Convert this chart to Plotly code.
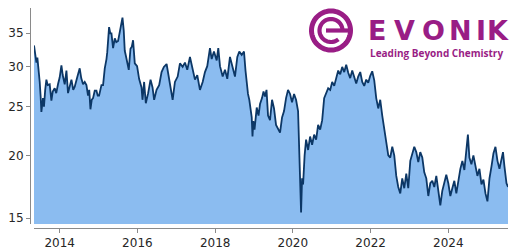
import math
import pandas as pd
import plotly.graph_objects as go

# ---- data (decimal year, price in EUR) ----
t_years = [
    2013.338, 2013.369, 2013.400, 2013.425, 2013.459, 2013.485, 2013.510, 2013.528, 2013.570, 2013.595,
    2013.626, 2013.657, 2013.691, 2013.742, 2013.786, 2013.820, 2013.871, 2013.910, 2013.956, 2014.000,
    2014.044, 2014.077, 2014.129, 2014.173, 2014.214, 2014.258, 2014.302, 2014.348, 2014.387, 2014.451,
    2014.515, 2014.554, 2014.601, 2014.644, 2014.688, 2014.729, 2014.760, 2014.791, 2014.825, 2014.858,
    2014.902, 2014.946, 2014.979, 2015.013, 2015.031, 2015.075, 2015.116, 2015.160, 2015.204, 2015.224,
    2015.271, 2015.302, 2015.332, 2015.374, 2015.418, 2015.456, 2015.503, 2015.546, 2015.585, 2015.616,
    2015.649, 2015.675, 2015.706, 2015.735, 2015.778, 2015.822, 2015.856, 2015.889, 2015.933, 2015.992,
    2016.044, 2016.106, 2016.131, 2016.173, 2016.216, 2016.276, 2016.338, 2016.389, 2016.430, 2016.492,
    2016.559, 2016.621, 2016.680, 2016.750, 2016.791, 2016.853, 2016.905, 2016.964, 2017.034, 2017.093,
    2017.162, 2017.222, 2017.281, 2017.351, 2017.420, 2017.479, 2017.539, 2017.608, 2017.678, 2017.737,
    2017.796, 2017.866, 2017.910, 2017.969, 2018.039, 2018.080, 2018.124, 2018.193, 2018.253, 2018.312,
    2018.381, 2018.451, 2018.510, 2018.570, 2018.621, 2018.683, 2018.742, 2018.781, 2018.812, 2018.845,
    2018.879, 2018.910, 2018.941, 2018.961, 2018.982, 2019.013, 2019.070, 2019.116, 2019.155, 2019.206,
    2019.245, 2019.284, 2019.322, 2019.361, 2019.412, 2019.464, 2019.515, 2019.567, 2019.619, 2019.670,
    2019.722, 2019.773, 2019.825, 2019.876, 2019.928, 2019.979, 2020.031, 2020.082, 2020.134, 2020.160,
    2020.186, 2020.211, 2020.237, 2020.263, 2020.302, 2020.340, 2020.392, 2020.443, 2020.495, 2020.546,
    2020.598, 2020.649, 2020.701, 2020.753, 2020.804, 2020.856, 2020.907, 2020.959, 2021.010, 2021.062,
    2021.113, 2021.165, 2021.216, 2021.268, 2021.320, 2021.371, 2021.423, 2021.474, 2021.526, 2021.577,
    2021.629, 2021.680, 2021.732, 2021.784, 2021.835, 2021.887, 2021.938, 2021.990, 2022.041, 2022.093,
    2022.144, 2022.196, 2022.247, 2022.299, 2022.351, 2022.402, 2022.454, 2022.505, 2022.557, 2022.608,
    2022.660, 2022.711, 2022.763, 2022.814, 2022.866, 2022.918, 2022.969, 2023.021, 2023.072, 2023.124,
    2023.175, 2023.227, 2023.278, 2023.330, 2023.381, 2023.433, 2023.485, 2023.536, 2023.588, 2023.639,
    2023.691, 2023.742, 2023.794, 2023.845, 2023.897, 2023.948, 2024.000, 2024.052, 2024.103, 2024.155,
    2024.206, 2024.258, 2024.309, 2024.361, 2024.412, 2024.464, 2024.503, 2024.541, 2024.593, 2024.644,
    2024.696, 2024.747, 2024.799, 2024.851, 2024.902, 2024.954, 2025.005, 2025.057, 2025.108, 2025.160,
    2025.211, 2025.263, 2025.314, 2025.366, 2025.405, 2025.443, 2025.495, 2025.534,
]
prices = [
    33.1, 32.0, 30.6, 31.3, 29.7, 28.0, 26.1, 24.4, 26.0, 25.0,
    27.0, 28.3, 27.6, 27.7, 25.7, 26.8, 27.2, 26.6, 27.7, 28.6,
    30.2, 28.9, 27.7, 29.5, 26.6, 27.6, 28.3, 27.0, 27.4, 28.6,
    29.8, 28.5, 27.7, 28.0, 27.6, 26.3, 27.0, 24.7, 25.8, 26.0,
    26.9, 26.9, 26.3, 26.3, 26.7, 27.6, 27.6, 29.8, 31.1, 32.1,
    36.0, 35.0, 35.0, 32.7, 34.2, 33.6, 33.8, 35.1, 36.5, 37.6,
    35.4, 32.3, 31.5, 30.5, 29.6, 32.6, 32.9, 33.9, 30.5, 30.1,
    28.4, 27.3, 25.8, 28.0, 25.4, 26.6, 28.3, 27.3, 25.8, 27.0,
    27.6, 29.3, 30.0, 30.4, 29.1, 26.9, 25.8, 28.0, 28.7, 30.5,
    30.0, 30.6, 29.6, 31.4, 29.4, 28.3, 28.9, 27.0, 28.0, 29.3,
    30.1, 32.7, 31.1, 32.2, 30.9, 32.7, 30.1, 28.7, 29.6, 28.4,
    31.4, 30.1, 28.7, 31.4, 32.2, 31.7, 32.2, 29.5, 27.6, 26.5,
    25.8, 24.5, 23.8, 21.8, 23.4, 22.5, 24.9, 24.0, 25.3, 26.0,
    26.8, 26.2, 27.0, 24.0, 23.5, 25.8, 24.8, 23.0, 22.5, 22.2,
    23.8, 24.5, 26.0, 27.0, 26.5, 25.5, 26.5, 25.8, 24.5, 21.0,
    17.5, 15.4, 18.0, 17.5, 20.0, 21.5, 20.5, 21.8, 21.0, 22.0,
    21.5, 23.0, 22.5, 23.5, 26.0, 26.5, 27.2, 27.0, 28.0, 27.5,
    28.5, 29.5, 29.0, 30.0, 29.3, 30.3, 29.2, 28.5, 29.5, 28.6,
    27.8, 28.7, 29.3, 28.0, 27.5, 28.3, 27.9, 28.8, 29.4, 28.2,
    26.0, 24.8, 25.8, 24.0, 22.5, 21.5, 20.0, 19.8, 20.8, 20.0,
    18.2, 17.3, 16.8, 18.0, 17.2, 18.4, 17.2, 19.5, 20.2, 20.8,
    20.3, 19.4, 20.3, 19.8, 18.5, 18.0, 16.6, 17.6, 17.8, 17.3,
    18.2, 16.8, 15.9, 17.0, 17.6, 18.3, 17.6, 16.6, 17.2, 17.8,
    16.8, 17.8, 18.8, 19.5, 18.7, 20.5, 22.0, 19.8, 19.2, 20.0,
    19.0, 18.2, 18.8, 17.5, 17.9, 16.8, 16.2, 18.0, 19.0, 20.2,
    20.8, 19.5, 18.8, 19.8, 20.3, 19.0, 17.6, 17.3,
]
y_ticks = [15, 20, 25, 30, 35]
y_range = [14.6, 39.3]
brand_word = "EVONIK"
brand_tagline = "Leading Beyond Chemistry"

# ---- convert decimal years to timestamps ----
def dec_to_ts(t):
    y = int(math.floor(t))
    start = pd.Timestamp(year=y, month=1, day=1)
    end = pd.Timestamp(year=y + 1, month=1, day=1)
    return start + (end - start) * (t - y)

dates = [dec_to_ts(t) for t in t_years]

W, H = 520, 250
ML, MR, MT, MB = 30, 12, 8, 22
PW, PH = W - ML - MR, H - MT - MB

def px_to_paper(px, py):
    return (px - ML) / PW, (H - MB - py) / PH

LINE = "#0c3766"
FILL = "#8bbcf0"
AXC = "#8a8a8a"
PURPLE = "#991d85"

fig = go.Figure()
fig.add_trace(go.Scatter(
    x=dates, y=prices, mode="lines", fill="tozeroy", fillcolor=FILL,
    line=dict(color=LINE, width=1.8), hoverinfo="skip", showlegend=False,
))

fig.update_layout(
    width=W, height=H, autosize=False,
    margin=dict(l=ML, r=MR, t=MT, b=MB, pad=0, autoexpand=False),
    paper_bgcolor="white", plot_bgcolor="white",
    font=dict(family="DejaVu Sans", size=12, color="#262626"),
    xaxis=dict(
        domain=[(34 - ML) / PW, 1], anchor="free", position=0, automargin=False,
        range=[dates[0], dates[-1]], type="date",
        tick0="2014-01-01", dtick="M24", tickformat="%Y",
        showgrid=False, zeroline=False,
        showline=True, linecolor=AXC, linewidth=1,
        ticks="outside", ticklen=4, tickcolor=AXC, tickwidth=1,
    ),
    yaxis=dict(
        domain=[(H - MB - 224) / PH, 1], anchor="free", position=0, automargin=False,
        type="log", range=[math.log10(y_range[0]), math.log10(y_range[1])],
        tickvals=y_ticks, ticktext=[str(v) for v in y_ticks],
        showgrid=False, zeroline=False,
        showline=True, linecolor=AXC, linewidth=1,
        ticks="outside", ticklen=4, tickcolor=AXC, tickwidth=1,
    ),
)

# ---- logo: symbol ----
cx, cy = px_to_paper(331, 30.5)

def arc(r, a0, a1, n=48):
    pts = []
    for i in range(n + 1):
        a = math.radians(a0 + (a1 - a0) * i / n)
        pts.append((r * math.cos(a), r * math.sin(a)))
    return "M " + " L ".join(f"{x:.2f},{y:.2f}" for x, y in pts)

common = dict(xref="paper", yref="paper", xsizemode="pixel", ysizemode="pixel",
              xanchor=cx, yanchor=cy, layer="above")
fig.add_shape(type="path", path=arc(19.5, 0, 360, 90),
              line=dict(color=PURPLE, width=5), **common)
fig.add_shape(type="path", path=arc(11.5, 0, 310),
              line=dict(color=PURPLE, width=4.2), **common)
fig.add_shape(type="path", path="M -5,0 L 19.5,0",
              line=dict(color=PURPLE, width=4.2), **common)

# ---- logo: word mark ----
letter_px = [377, 404.5, 433, 460.5, 480.5, 497.5]
for ch, lx in zip(brand_word, letter_px):
    ax, ay = px_to_paper(lx, 31)
    fig.add_annotation(text=f"<b>{ch}</b>", x=ax, y=ay, xref="paper", yref="paper",
                       xanchor="center", yanchor="middle", showarrow=False,
                       font=dict(family="DejaVu Sans", size=27, color=PURPLE))
tx, ty = px_to_paper(436, 53)
fig.add_annotation(text=f"<b>{brand_tagline}</b>", x=tx, y=ty, xref="paper", yref="paper",
                   xanchor="center", yanchor="middle", showarrow=False,
                   font=dict(family="Open Sans", size=10, color=PURPLE))

fig.write_html("out.html", config={"displayModeBar": False, "staticPlot": True})
